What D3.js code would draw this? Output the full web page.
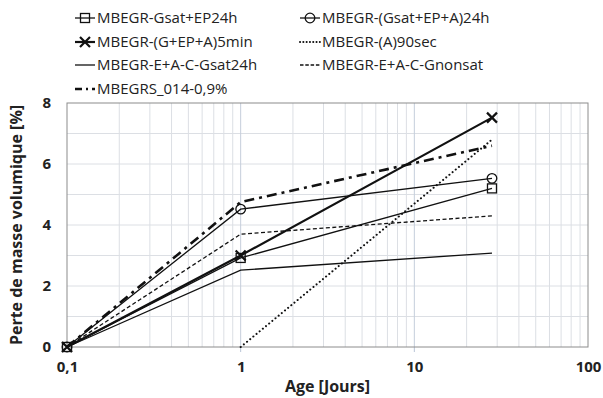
<!DOCTYPE html>
<html><head><meta charset="utf-8">
<script src="https://cdn.jsdelivr.net/npm/d3@7"></script>
<style>body{margin:0;background:#fff;} svg{display:block;font-family:"Open Sans","Liberation Sans",sans-serif;}</style>
</head><body>
<script>
const ages = [0.1, 1, 28];
const agesA = [1, 28];
const gsatEP24h = [0, 2.92, 5.2];
const gsatEPA24h = [0, 4.52, 5.53];
const gEPA5min = [0, 3.0, 7.52];
const a90sec = [0, 6.8];
const eacGsat24h = [0, 2.52, 3.08];
const eacGnonsat = [0, 3.7, 4.3];
const mbegrs014 = [0, 4.75, 6.6];
const xTicks = [0.1, 1, 10, 100];
const xTickLabels = ["0,1", "1", "10", "100"];
const yTicks = [0, 2, 4, 6, 8];

const series = [
  {name:"MBEGR-Gsat+EP24h", x:ages, y:gsatEP24h, w:1.3, dash:null, legDash:null, marker:"square"},
  {name:"MBEGR-(Gsat+EP+A)24h", x:ages, y:gsatEPA24h, w:1.3, dash:null, legDash:null, marker:"circle"},
  {name:"MBEGR-(G+EP+A)5min", x:ages, y:gEPA5min, w:2.2, dash:null, legDash:null, marker:"cross"},
  {name:"MBEGR-(A)90sec", x:agesA, y:a90sec, w:2, dash:"0.1 4", legDash:"0.1 3.2", cap:"round", marker:null},
  {name:"MBEGR-E+A-C-Gsat24h", x:ages, y:eacGsat24h, w:1.3, dash:null, legDash:null, marker:null},
  {name:"MBEGR-E+A-C-Gnonsat", x:ages, y:eacGnonsat, w:1.3, dash:"4 2.5", legDash:"3.5 1.8", marker:null},
  {name:"MBEGRS_014-0,9%", x:ages, y:mbegrs014, w:2.6, dash:"10 5 3 5", legDash:"7 4 2 4", marker:null}
];

const W = 603, H = 398;
const m = {l:67, r:15, t:103, b:51};
const svg = d3.select("body").append("svg").attr("width", W).attr("height", H);
const x = d3.scaleLog().domain([0.1, 100]).range([m.l, W - m.r]);
const y = d3.scaleLinear().domain([0, 8]).range([H - m.b, m.t]);

// grid
const minorX = [];
for (let d = 0.1; d < 100; d *= 10) for (let k = 2; k <= 9; k++) minorX.push(+(d * k).toPrecision(3));
svg.append("g").selectAll("line").data(minorX).join("line")
  .attr("x1", d => x(d)).attr("x2", d => x(d)).attr("y1", y(0)).attr("y2", y(8))
  .attr("stroke", "#dcdfe4").attr("stroke-width", 1);
svg.append("g").selectAll("line").data(d3.range(1, 8)).join("line")
  .attr("x1", x(0.1)).attr("x2", x(100)).attr("y1", d => y(d)).attr("y2", d => y(d))
  .attr("stroke", "#dcdfe4").attr("stroke-width", 1);
svg.append("g").selectAll("line").data([1, 10]).join("line")
  .attr("x1", d => x(d)).attr("x2", d => x(d)).attr("y1", y(0)).attr("y2", y(0) + 5)
  .attr("stroke", "#b8c4d6").attr("stroke-width", 1);
svg.append("g").selectAll("line").data([1, 10]).join("line")
  .attr("x1", d => x(d)).attr("x2", d => x(d)).attr("y1", y(0)).attr("y2", y(8))
  .attr("stroke", "#c5cedb").attr("stroke-width", 1);
svg.append("rect").attr("x", x(0.1)).attr("y", y(8)).attr("width", x(100) - x(0.1)).attr("height", y(0) - y(8))
  .attr("fill", "none").attr("stroke", "#8c8c8c").attr("stroke-width", 1);

// axes
const xAxis = d3.axisBottom(x).tickValues(xTicks).tickFormat((d, i) => xTickLabels[i]).tickSize(0).tickPadding(14);
svg.append("g").attr("transform", `translate(0,${y(0)})`).call(xAxis)
  .call(g => g.select(".domain").remove())
  .selectAll("text").attr("font-size", 15).attr("font-weight", "bold").attr("fill", "#222")
  .attr("font-family", "'Open Sans',sans-serif");
const yAxis = d3.axisLeft(y).tickValues(yTicks).tickFormat(d3.format("d")).tickSize(0).tickPadding(16);
svg.append("g").attr("transform", `translate(${x(0.1)},0)`).call(yAxis)
  .call(g => g.select(".domain").remove())
  .selectAll("text").attr("font-size", 15).attr("font-weight", "bold").attr("fill", "#222")
  .attr("font-family", "'Open Sans',sans-serif");

svg.append("text").attr("x", (x(0.1) + x(100)) / 2).attr("y", 392).attr("text-anchor", "middle")
  .attr("font-size", 16).attr("font-weight", "bold").attr("fill", "#222").text("Age [Jours]");
svg.append("text").attr("transform", `translate(22,${(y(0) + y(8)) / 2}) rotate(-90)`).attr("text-anchor", "middle")
  .attr("font-size", 16).attr("font-weight", "bold").attr("fill", "#222").text("Perte de masse volumique [%]");

// lines
const line = d3.line().x(d => x(d[0])).y(d => y(d[1]));
function drawMarker(g, type, cx, cy) {
  if (type === "square") g.append("rect").attr("x", cx - 4.5).attr("y", cy - 4.5).attr("width", 9).attr("height", 9)
    .attr("fill", "none").attr("stroke", "#111").attr("stroke-width", 1.3);
  else if (type === "circle") g.append("circle").attr("cx", cx).attr("cy", cy).attr("r", 4.8)
    .attr("fill", "none").attr("stroke", "#111").attr("stroke-width", 1.3);
  else if (type === "cross") g.append("path").attr("d", `M${cx-5},${cy-5}L${cx+5},${cy+5}M${cx-5},${cy+5}L${cx+5},${cy-5}`)
    .attr("stroke", "#111").attr("stroke-width", 2.2);
}
const gl = svg.append("g");
series.forEach(s => {
  const pts = s.x.map((v, i) => [v, s.y[i]]);
  gl.append("path").datum(pts).attr("d", line).attr("fill", "none").attr("stroke", "#111")
    .attr("stroke-width", s.w).attr("stroke-dasharray", s.dash).attr("stroke-linecap", s.cap || "butt");
  if (s.marker) pts.forEach(p => drawMarker(gl, s.marker, x(p[0]), y(p[1])));
});

// legend
const legPos = [[75, 18], [300, 18], [75, 42], [300, 42], [75, 65], [300, 65], [75, 89]];
const lg = svg.append("g");
series.forEach((s, i) => {
  const [lx, ly] = legPos[i];
  lg.append("line").attr("x1", lx).attr("x2", lx + 20).attr("y1", ly).attr("y2", ly).attr("stroke", "#111")
    .attr("stroke-width", s.w).attr("stroke-dasharray", s.legDash)
    .attr("stroke-linecap", s.cap || "butt");
  if (s.marker) drawMarker(lg.append("g"), s.marker, lx + 10, ly);
  lg.append("text").attr("x", lx + 22).attr("y", ly).attr("dy", "0.35em").attr("font-size", 15).attr("fill", "#222").text(s.name);
});
</script>
</body></html>
